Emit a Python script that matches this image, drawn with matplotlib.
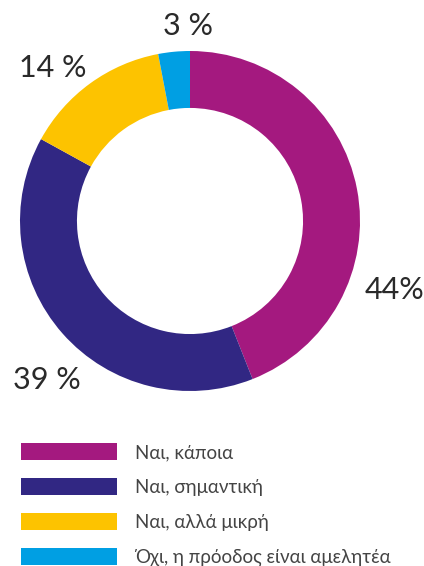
import numpy as np
import matplotlib.pyplot as plt
from matplotlib.patches import Patch

categories = ['Ναι, κάποια', 'Ναι, σημαντική', 'Ναι, αλλά μικρή', 'Όχι, η πρόοδος είναι αμελητέα']
values = [44, 39, 14, 3]
value_labels = ['44%', '39 %', '14 %', '3 %']
colors = ['#A4197F', '#312783', '#FDC300', '#009FE3']

# label placement (angle in degrees, distance in radii)
label_pos = [(-18.6, 1.27), (-132.0, 1.26), (132.0, 1.21), (90.6, 1.15)]

plt.rcParams['font.family'] = ['Lato', 'DejaVu Sans']

W, H = 424, 566
fig = plt.figure(figsize=(W / 100, H / 100), dpi=100)
cx, cy, r = 190, 221, 170
ax = fig.add_axes([(cx - r) / W, (H - cy - r) / H, 2 * r / W, 2 * r / H])

ax.pie(values, colors=colors, startangle=90, counterclock=False,
       wedgeprops=dict(width=0.335, linewidth=0), radius=1)
ax.set_xlim(-1, 1)
ax.set_ylim(-1, 1)
ax.set_aspect('equal')
ax.axis('off')

for lab, (ang, dist) in zip(value_labels, label_pos):
    a = np.deg2rad(ang)
    ax.text(dist * np.cos(a), dist * np.sin(a), lab, ha='center', va='center',
            fontsize=22, fontweight='normal', color='#2a2a2a', clip_on=False)

handles = [Patch(facecolor=c, edgecolor='none') for c in colors]
leg = fig.legend(handles, categories, loc='upper left',
                 bbox_to_anchor=(0.028, 1 - 434 / H), frameon=False,
                 fontsize=13.5, handlelength=5.12, handleheight=1.01,
                 labelspacing=0.9, handletextpad=0.95, borderpad=0)
for t in leg.get_texts():
    t.set_color('#444444')

fig.savefig('out.png', dpi=100)
